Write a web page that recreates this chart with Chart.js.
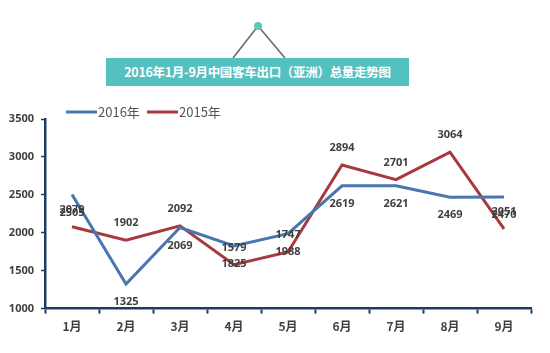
<!DOCTYPE html>
<html lang="zh">
<head>
  <meta charset="UTF-8">
  <title>2016年1月-9月中国客车出口（亚洲）总量走势图</title>
  <script src="https://cdn.jsdelivr.net/npm/chart.js"></script>
  <style>
    html, body { margin: 0; padding: 0; background: #fff; }
    .wrap { position: relative; width: 550px; height: 353px; font-family: "Noto Sans CJK SC", sans-serif; }
    #chart { position: absolute; left: 0; top: 0; }
    .deco { position: absolute; left: 0; top: 0; }
    .banner { position: absolute; left: 106px; top: 58px; width: 303px; height: 28px; background: #55c0c0;
      color: #fff; font-weight: bold; font-size: 12.5px; line-height: 28px; text-align: center; letter-spacing: -0.3px; }
  </style>
</head>
<body>
  <div class="wrap">
    <canvas id="chart" width="550" height="353"></canvas>
    <svg class="deco" width="550" height="100">
      <line x1="258" y1="26" x2="233" y2="58" stroke="#6b6b6b" stroke-width="1.6"/>
      <line x1="258" y1="26" x2="285" y2="58" stroke="#6b6b6b" stroke-width="1.6"/>
      <circle cx="258" cy="26" r="4" fill="#5ec8b8"/>
    </svg>
    <div class="banner">2016年1月-9月中国客车出口（亚洲）总量走势图</div>
  </div>

  <script>
    const months = ['1月', '2月', '3月', '4月', '5月', '6月', '7月', '8月', '9月'];
    const sales2016 = [2505, 1325, 2069, 1825, 1988, 2619, 2621, 2469, 2470];
    const sales2015 = [2079, 1902, 2092, 1579, 1747, 2894, 2701, 3064, 2051];
    const yTicks = [1000, 1500, 2000, 2500, 3000, 3500];

    const BLUE = '#4a76b0';
    const RED = '#a8393f';
    const AXIS = '#1f3b63';
    const TXT = '#3f3f3f';

    // value labels: 2016 under the point, 2015 above it
    const valueLabels = {
      id: 'valueLabels',
      afterDatasetsDraw(chart) {
        const ctx = chart.ctx;
        ctx.save();
        ctx.font = 'bold 11px "Open Sans", sans-serif';
        ctx.fillStyle = TXT;
        ctx.textAlign = 'center';
        ctx.textBaseline = 'middle';
        chart.data.datasets.forEach((ds, i) => {
          const dy = ds.label === '2016年' ? 18 : -17;
          chart.getDatasetMeta(i).data.forEach((pt, j) => {
            ctx.fillText(ds.data[j], pt.x, pt.y + dy);
          });
        });
        ctx.restore();
      }
    };

    // legend drawn as line + text at the top-left
    const lineLegend = {
      id: 'lineLegend',
      afterDraw(chart) {
        const ctx = chart.ctx;
        const spots = [66, 147];
        ctx.save();
        ctx.font = '13px "Noto Sans CJK SC", sans-serif';
        ctx.textBaseline = 'middle';
        chart.data.datasets.forEach((ds, i) => {
          const x = spots[i], y = 112;
          ctx.strokeStyle = ds.borderColor;
          ctx.lineWidth = 3;
          ctx.beginPath(); ctx.moveTo(x, y); ctx.lineTo(x + 31, y); ctx.stroke();
          ctx.fillStyle = '#555';
          ctx.fillText(ds.label, x + 32, y);
        });
        ctx.restore();
      }
    };

    new Chart(document.getElementById('chart'), {
      type: 'line',
      data: {
        labels: months,
        datasets: [
          { label: '2016年', data: sales2016, borderColor: BLUE, borderWidth: 3, pointRadius: 0, tension: 0 },
          { label: '2015年', data: sales2015, borderColor: RED, borderWidth: 3, pointRadius: 0, tension: 0 }
        ]
      },
      options: {
        responsive: false,
        animation: false,
        layout: { padding: { top: 119, right: 19, left: 0, bottom: 13 } },
        plugins: { legend: { display: false }, tooltip: { enabled: false } },
        scales: {
          x: {
            offset: true,
            grid: { offset: true, drawOnChartArea: false, color: AXIS, tickLength: 5, tickWidth: 2 },
            border: { color: AXIS, width: 2.5 },
            ticks: { color: TXT, font: { size: 12, weight: 'bold', family: '"Noto Sans CJK SC", sans-serif' }, padding: 6 }
          },
          y: {
            min: 1000, max: 3500,
            afterFit(scale) { scale.width = 45; },
            afterBuildTicks(scale) { scale.ticks = yTicks.map(v => ({ value: v })); },
            grid: { drawOnChartArea: false, color: AXIS, tickLength: 4, tickWidth: 1.5 },
            border: { color: AXIS, width: 2.5 },
            ticks: { color: TXT, font: { size: 11, weight: 'bold', family: '"Open Sans", sans-serif' }, padding: 7,
                     callback: v => String(v) }
          }
        }
      },
      plugins: [valueLabels, lineLegend]
    });
  </script>
</body>
</html>
